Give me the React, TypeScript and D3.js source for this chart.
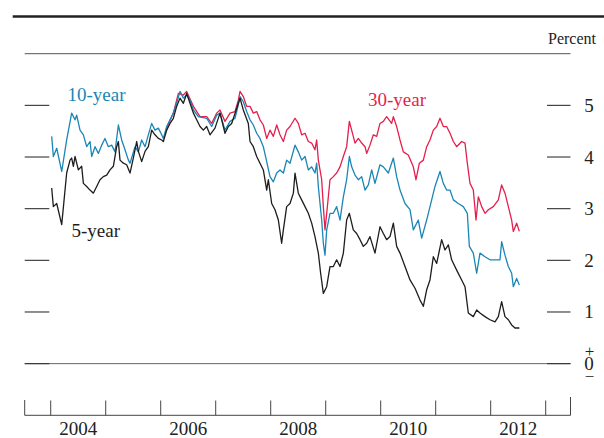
import React from "react";
import * as d3 from "d3";

// [decimal year, percent]
const fiveYear: [number, number][] = [
  [2004.018, 3.40], [2004.048, 3.04], [2004.109, 3.10], [2004.2, 2.69], [2004.29, 3.69], [2004.351, 3.94],
  [2004.381, 3.98], [2004.412, 3.82], [2004.442, 4.01], [2004.503, 3.75], [2004.563, 3.82], [2004.594, 3.49],
  [2004.654, 3.43], [2004.715, 3.36], [2004.775, 3.30], [2004.836, 3.43], [2004.896, 3.56], [2004.957, 3.62],
  [2005.018, 3.65], [2005.078, 3.75], [2005.139, 3.82], [2005.199, 4.20], [2005.23, 4.30], [2005.26, 3.94],
  [2005.321, 3.88], [2005.381, 3.85], [2005.442, 3.69], [2005.502, 3.98], [2005.563, 4.30], [2005.594, 4.11],
  [2005.654, 3.91], [2005.715, 4.11], [2005.775, 4.20], [2005.836, 4.52], [2005.896, 4.43], [2005.957, 4.36],
  [2006.018, 4.33], [2006.048, 4.30], [2006.109, 4.52], [2006.169, 4.65], [2006.23, 4.75], [2006.29, 4.98],
  [2006.351, 5.14], [2006.412, 5.04], [2006.472, 5.23], [2006.533, 5.04], [2006.594, 4.85], [2006.654, 4.72],
  [2006.715, 4.59], [2006.775, 4.52], [2006.836, 4.59], [2006.896, 4.43], [2006.987, 4.56], [2007.078, 4.85],
  [2007.169, 4.46], [2007.23, 4.59], [2007.29, 4.65], [2007.381, 4.94], [2007.442, 5.14], [2007.502, 4.91],
  [2007.593, 4.65], [2007.624, 4.30], [2007.684, 4.20], [2007.745, 4.01], [2007.805, 3.88], [2007.866, 3.75],
  [2007.927, 3.36], [2007.957, 3.56], [2008.018, 3.10], [2008.078, 2.98], [2008.139, 2.78], [2008.199, 2.33],
  [2008.23, 2.59], [2008.29, 3.04], [2008.351, 3.10], [2008.412, 3.30], [2008.442, 3.69], [2008.502, 3.30],
  [2008.563, 3.17], [2008.624, 3.04], [2008.684, 2.91], [2008.745, 2.72], [2008.805, 2.46], [2008.866, 2.14],
  [2008.908, 1.75], [2008.957, 1.36], [2009.018, 1.49], [2009.078, 1.88], [2009.139, 1.88], [2009.199, 2.01],
  [2009.26, 1.88], [2009.321, 2.14], [2009.381, 2.78], [2009.43, 2.91], [2009.502, 2.59], [2009.563, 2.52],
  [2009.624, 2.40], [2009.684, 2.27], [2009.745, 2.33], [2009.805, 2.46], [2009.896, 2.14], [2009.987, 2.65],
  [2010.048, 2.52], [2010.108, 2.40], [2010.169, 2.46], [2010.23, 2.72], [2010.29, 2.27], [2010.351, 2.14],
  [2010.442, 1.88], [2010.533, 1.62], [2010.624, 1.46], [2010.715, 1.23], [2010.775, 1.11], [2010.836, 1.43],
  [2010.896, 1.62], [2010.957, 2.07], [2011.018, 1.94], [2011.108, 2.40], [2011.169, 2.20], [2011.23, 2.30],
  [2011.29, 2.01], [2011.381, 1.81], [2011.472, 1.62], [2011.533, 1.49], [2011.593, 0.98], [2011.684, 0.91],
  [2011.745, 1.04], [2011.805, 0.98], [2011.896, 0.91], [2011.987, 0.85], [2012.078, 0.81], [2012.139, 0.91],
  [2012.199, 1.20], [2012.26, 0.91], [2012.321, 0.85], [2012.381, 0.75], [2012.442, 0.69], [2012.521, 0.69],
];

const tenYear: [number, number][] = [
  [2004.018, 4.40], [2004.048, 4.01], [2004.109, 4.17], [2004.2, 3.72], [2004.29, 4.33], [2004.381, 4.85],
  [2004.442, 4.72], [2004.472, 4.81], [2004.533, 4.52], [2004.594, 4.43], [2004.654, 4.20], [2004.715, 4.30],
  [2004.745, 4.01], [2004.806, 4.20], [2004.866, 4.07], [2004.927, 4.23], [2004.987, 4.36], [2005.048, 4.20],
  [2005.109, 4.23], [2005.169, 4.10], [2005.23, 4.62], [2005.29, 4.33], [2005.351, 4.14], [2005.412, 3.94],
  [2005.442, 3.88], [2005.533, 4.20], [2005.594, 4.10], [2005.654, 4.33], [2005.715, 4.20], [2005.775, 4.43],
  [2005.836, 4.65], [2005.896, 4.52], [2005.957, 4.56], [2006.018, 4.43], [2006.048, 4.36], [2006.109, 4.59],
  [2006.169, 4.72], [2006.23, 4.85], [2006.29, 5.04], [2006.351, 5.27], [2006.412, 5.14], [2006.472, 5.20],
  [2006.533, 5.10], [2006.594, 4.91], [2006.684, 4.78], [2006.836, 4.75], [2006.927, 4.59], [2007.018, 4.81],
  [2007.078, 4.85], [2007.169, 4.52], [2007.26, 4.69], [2007.351, 4.75], [2007.411, 5.01], [2007.442, 5.17],
  [2007.502, 5.07], [2007.563, 4.88], [2007.624, 4.72], [2007.684, 4.62], [2007.745, 4.46], [2007.805, 4.36],
  [2007.866, 4.20], [2007.927, 3.91], [2007.987, 3.62], [2008.048, 3.52], [2008.109, 3.69], [2008.169, 3.75],
  [2008.23, 3.69], [2008.29, 3.94], [2008.351, 3.88], [2008.442, 4.23], [2008.502, 4.10], [2008.563, 3.94],
  [2008.624, 4.01], [2008.684, 3.75], [2008.745, 3.81], [2008.805, 3.69], [2008.836, 3.88], [2008.866, 3.43],
  [2008.927, 2.78], [2008.957, 2.33], [2008.987, 2.10], [2009.018, 2.59], [2009.078, 2.91], [2009.139, 2.91],
  [2009.199, 3.04], [2009.26, 2.78], [2009.321, 3.23], [2009.381, 3.56], [2009.43, 4.01], [2009.472, 3.81],
  [2009.533, 3.65], [2009.593, 3.56], [2009.654, 3.62], [2009.715, 3.36], [2009.775, 3.46], [2009.836, 3.75],
  [2009.896, 3.49], [2009.987, 3.85], [2010.048, 3.81], [2010.139, 3.69], [2010.23, 3.98], [2010.29, 3.62],
  [2010.351, 3.36], [2010.442, 3.10], [2010.533, 2.98], [2010.593, 2.59], [2010.684, 2.78], [2010.745, 2.43],
  [2010.836, 2.78], [2010.927, 3.17], [2010.987, 3.43], [2011.078, 3.72], [2011.139, 3.49], [2011.199, 3.36],
  [2011.26, 3.36], [2011.321, 3.17], [2011.411, 3.10], [2011.502, 3.04], [2011.575, 2.91], [2011.612, 2.27],
  [2011.684, 2.14], [2011.745, 1.75], [2011.805, 2.14], [2011.896, 2.07], [2011.987, 2.01], [2012.078, 2.01],
  [2012.169, 2.01], [2012.199, 2.36], [2012.26, 2.10], [2012.321, 1.88], [2012.381, 1.75], [2012.411, 1.49],
  [2012.472, 1.65], [2012.521, 1.52],
];

const thirtyYear: [number, number][] = [
  [2006.078, 4.43], [2006.109, 4.56], [2006.23, 4.85], [2006.321, 5.23], [2006.412, 5.20], [2006.472, 5.27],
  [2006.594, 4.98], [2006.715, 4.78], [2006.836, 4.78], [2006.927, 4.65], [2007.018, 4.85], [2007.078, 4.91],
  [2007.169, 4.69], [2007.26, 4.85], [2007.351, 4.88], [2007.411, 5.10], [2007.442, 5.27], [2007.502, 5.17],
  [2007.563, 4.98], [2007.624, 4.98], [2007.684, 4.85], [2007.745, 4.88], [2007.805, 4.72], [2007.866, 4.62],
  [2007.927, 4.36], [2007.987, 4.52], [2008.048, 4.40], [2008.109, 4.62], [2008.169, 4.43], [2008.23, 4.30],
  [2008.29, 4.52], [2008.351, 4.59], [2008.442, 4.75], [2008.502, 4.65], [2008.563, 4.43], [2008.624, 4.46],
  [2008.684, 4.30], [2008.745, 4.27], [2008.805, 4.14], [2008.836, 4.33], [2008.866, 3.94], [2008.927, 3.56],
  [2008.957, 3.04], [2008.987, 2.59], [2009.018, 2.91], [2009.048, 3.23], [2009.078, 3.56], [2009.139, 3.62],
  [2009.199, 3.69], [2009.26, 3.81], [2009.321, 4.01], [2009.381, 4.20], [2009.43, 4.69], [2009.472, 4.52],
  [2009.533, 4.27], [2009.593, 4.36], [2009.654, 4.27], [2009.715, 4.20], [2009.745, 4.07], [2009.805, 4.23],
  [2009.866, 4.43], [2009.927, 4.40], [2009.987, 4.65], [2010.048, 4.69], [2010.108, 4.78], [2010.199, 4.65],
  [2010.23, 4.78], [2010.29, 4.59], [2010.351, 4.33], [2010.412, 4.10], [2010.502, 4.04], [2010.593, 3.81],
  [2010.642, 3.56], [2010.703, 3.88], [2010.775, 3.94], [2010.836, 4.20], [2010.896, 4.33], [2010.957, 4.52],
  [2011.018, 4.59], [2011.078, 4.75], [2011.139, 4.59], [2011.199, 4.59], [2011.26, 4.46], [2011.321, 4.30],
  [2011.381, 4.20], [2011.472, 4.30], [2011.533, 4.27], [2011.575, 3.88], [2011.624, 3.49], [2011.684, 3.36],
  [2011.733, 2.78], [2011.775, 3.23], [2011.836, 3.04], [2011.896, 2.91], [2011.957, 2.98], [2012.048, 3.04],
  [2012.139, 3.17], [2012.199, 3.46], [2012.26, 3.30], [2012.321, 3.04], [2012.381, 2.78], [2012.411, 2.56],
  [2012.472, 2.72], [2012.521, 2.56],
];

const yTicks = [0, 1, 2, 3, 4, 5];
const yLabels = [1, 2, 3, 4, 5];
const yearTicks = [2004, 2005, 2006, 2007, 2008, 2009, 2010, 2011, 2012, 2013];
const yearLabels = [2004, 2006, 2008, 2010, 2012];

const BLUE = "#1b86b6";
const RED = "#e41f4e";
const BLACK = "#1d1d1d";
const FONT = "'Liberation Serif', 'Times New Roman', serif";

export default function App() {
  const W = 604, H = 438;
  const left = 24.7, right = 570.5;
  const x = d3.scaleLinear().domain([2003.527, 2013.451]).range([left, right]);
  const y = d3.scaleLinear().domain([-1, 6]).range([415.3, 53.7]);
  const line = d3.line<[number, number]>().x(d => x(d[0])).y(d => y(d[1]));

  return (
    <svg width={W} height={H} style={{ position: "absolute", left: 0, top: 0, background: "#fff" }}
      fontFamily={FONT}>
      <rect width={W} height={H} fill="#fff" />
      {/* top rule */}
      <line x1={12.7} x2={W} y1={16.5} y2={16.5} stroke="#222" strokeWidth={2.6} />
      {/* frame top */}
      <line x1={left} x2={right} y1={y(6)} y2={y(6)} stroke="#555" strokeWidth={1} />
      <text x={596} y={44} fontSize={16} textAnchor="end" fill="#222">Percent</text>
      {/* zero line */}
      <line x1={left} x2={right} y1={y(0)} y2={y(0)} stroke="#666" strokeWidth={1} />
      {/* y ticks */}
      {yTicks.map(v => (
        <g key={v}>
          <line x1={left} x2={49.3} y1={y(v)} y2={y(v)} stroke="#333" strokeWidth={1.1} />
          <line x1={547} x2={right} y1={y(v)} y2={y(v)} stroke="#333" strokeWidth={1.1} />
        </g>
      ))}
      {yLabels.map(v => (
        <text key={v} x={589} y={y(v) + 6.5} fontSize={19} textAnchor="middle" fill="#222">{v}</text>
      ))}
      <text x={589.5} y={y(0) - 6.5} fontSize={17} textAnchor="middle" fill="#222">+</text>
      <text x={589} y={y(0) + 6.5} fontSize={19} textAnchor="middle" fill="#222">0</text>
      <text x={589.5} y={y(0) + 18} fontSize={17} textAnchor="middle" fill="#222">−</text>
      {/* bottom axis */}
      <line x1={left} x2={right} y1={415.3} y2={415.3} stroke="#444" strokeWidth={1} />
      <line x1={left} x2={left} y1={400} y2={415.3} stroke="#444" strokeWidth={1} />
      <line x1={right} x2={right} y1={397} y2={415.3} stroke="#444" strokeWidth={1} />
      {yearTicks.map(t => (
        <line key={t} x1={x(t)} x2={x(t)} y1={400.5} y2={415.3} stroke="#444" strokeWidth={1} />
      ))}
      {yearLabels.map(t => (
        <text key={t} x={x(t + 0.5)} y={434.5} fontSize={19} textAnchor="middle" fill="#222">{t}</text>
      ))}
      {/* series */}
      <path d={line(thirtyYear) || ""} fill="none" stroke={RED} strokeWidth={1.3} strokeLinejoin="round" />
      <path d={line(tenYear) || ""} fill="none" stroke={BLUE} strokeWidth={1.3} strokeLinejoin="round" />
      <path d={line(fiveYear) || ""} fill="none" stroke={BLACK} strokeWidth={1.3} strokeLinejoin="round" />
      {/* labels */}
      <text x={67.5} y={101} fontSize={19} fill={BLUE}>10-year</text>
      <text x={368} y={106} fontSize={19} fill={RED}>30-year</text>
      <text x={71.5} y={236.5} fontSize={19} fill={BLACK}>5-year</text>
    </svg>
  );
}
